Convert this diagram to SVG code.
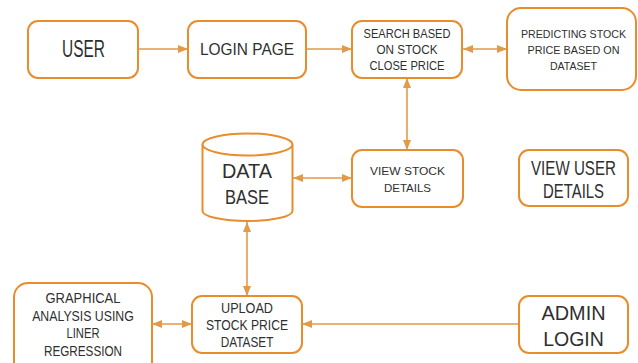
<svg xmlns="http://www.w3.org/2000/svg" width="638" height="363" viewBox="0 0 638 363">
<style>
.box{fill:#fff;stroke:#E98D2C;stroke-width:2}
.conn{stroke:#E39A48;stroke-width:1.6;fill:none}
text{font-family:"Liberation Sans",Arial,sans-serif;fill:#2f2f2f;text-anchor:middle}
</style>
<defs>
<marker id="ah" markerUnits="userSpaceOnUse" markerWidth="10" markerHeight="10" viewBox="0 0 10 10" refX="10" refY="5" orient="auto-start-reverse">
<path d="M0,1 L10,5 L0,9 z" fill="#E39A48"/>
</marker>
</defs>
<rect width="638" height="363" fill="#fff"/>
<g id="connectors">
<line class="conn" x1="138" y1="49" x2="188" y2="49" marker-end="url(#ah)"/>
<line class="conn" x1="306" y1="49" x2="352" y2="49" marker-end="url(#ah)"/>
<line class="conn" x1="463" y1="49" x2="507" y2="49" marker-start="url(#ah)" marker-end="url(#ah)"/>
<line class="conn" x1="407" y1="78" x2="407" y2="150" marker-start="url(#ah)" marker-end="url(#ah)"/>
<line class="conn" x1="293" y1="178" x2="352" y2="178" marker-start="url(#ah)" marker-end="url(#ah)"/>
<line class="conn" x1="247" y1="222" x2="247" y2="296" marker-start="url(#ah)" marker-end="url(#ah)"/>
<line class="conn" x1="152" y1="324" x2="192" y2="324" marker-start="url(#ah)" marker-end="url(#ah)"/>
<line class="conn" x1="519" y1="324" x2="302" y2="324" marker-end="url(#ah)"/>
</g>
<g id="user">
<rect class="box" x="28" y="21" width="110" height="57" rx="10"/>
<text x="83.5" y="57.3" font-size="23" textLength="43" lengthAdjust="spacingAndGlyphs">USER</text>
</g>
<g id="login-page">
<rect class="box" x="188" y="21" width="118" height="57" rx="10"/>
<text x="247" y="55.3" font-size="16.5" textLength="94" lengthAdjust="spacingAndGlyphs">LOGIN PAGE</text>
</g>
<g id="search">
<rect class="box" x="352" y="21" width="110" height="57" rx="10"/>
<text x="407" y="37.7" font-size="13" textLength="87" lengthAdjust="spacingAndGlyphs">SEARCH BASED</text>
<text x="407" y="54.3" font-size="13" textLength="61" lengthAdjust="spacingAndGlyphs">ON STOCK</text>
<text x="407" y="70" font-size="13" textLength="75" lengthAdjust="spacingAndGlyphs">CLOSE PRICE</text>
</g>
<g id="predicting">
<rect class="box" x="507" y="8" width="129" height="82" rx="14"/>
<text x="573.5" y="37.7" font-size="11.8" textLength="105" lengthAdjust="spacingAndGlyphs">PREDICTING STOCK</text>
<text x="573.5" y="54" font-size="11.8" textLength="92" lengthAdjust="spacingAndGlyphs">PRICE BASED ON</text>
<text x="573.5" y="69.5" font-size="11.8" textLength="47" lengthAdjust="spacingAndGlyphs">DATASET</text>
</g>
<g id="database">
<path class="box" d="M202.5,144.5 L202.5,211 A45,10 0 0 0 292.5,211 L292.5,144.5"/>
<ellipse class="box" cx="247.5" cy="144.5" rx="45" ry="11"/>
<text x="247" y="178.3" font-size="19.5" textLength="50" lengthAdjust="spacingAndGlyphs">DATA</text>
<text x="247" y="204.3" font-size="19.5" textLength="44" lengthAdjust="spacingAndGlyphs">BASE</text>
</g>
<g id="view-stock">
<rect class="box" x="352" y="150" width="111" height="57" rx="10"/>
<text x="407.5" y="175" font-size="11.8" textLength="75" lengthAdjust="spacingAndGlyphs">VIEW STOCK</text>
<text x="407.5" y="191.5" font-size="11.8" textLength="47" lengthAdjust="spacingAndGlyphs">DETAILS</text>
</g>
<g id="view-user">
<rect class="box" x="519" y="150" width="109" height="56" rx="10"/>
<text transform="translate(573.5,175) scale(0.72,1)" x="0" y="0" font-size="21" textLength="118" lengthAdjust="spacingAndGlyphs">VIEW USER</text>
<text transform="translate(573.5,198.3) scale(0.72,1)" x="0" y="0" font-size="21" textLength="84.7" lengthAdjust="spacingAndGlyphs">DETAILS</text>
</g>
<g id="graphical">
<rect class="box" x="14" y="283" width="138" height="95" rx="14"/>
<text x="83" y="303.3" font-size="14" textLength="75" lengthAdjust="spacingAndGlyphs">GRAPHICAL</text>
<text x="83" y="320.7" font-size="14" textLength="101.7" lengthAdjust="spacingAndGlyphs">ANALYSIS USING</text>
<text x="83" y="338.3" font-size="14" textLength="33" lengthAdjust="spacingAndGlyphs">LINER</text>
<text x="83" y="356" font-size="14" textLength="78" lengthAdjust="spacingAndGlyphs">REGRESSION</text>
</g>
<g id="upload">
<rect class="box" x="192" y="296" width="110" height="57" rx="10"/>
<text x="247" y="312.7" font-size="14.4" textLength="52" lengthAdjust="spacingAndGlyphs">UPLOAD</text>
<text x="247" y="330" font-size="14.4" textLength="82" lengthAdjust="spacingAndGlyphs">STOCK PRICE</text>
<text x="247" y="346.7" font-size="14.4" textLength="52.7" lengthAdjust="spacingAndGlyphs">DATASET</text>
</g>
<g id="admin-login">
<rect class="box" x="519" y="296" width="109" height="57" rx="10"/>
<text x="573.5" y="320" font-size="21" textLength="64" lengthAdjust="spacingAndGlyphs">ADMIN</text>
<text x="573.5" y="345.5" font-size="21" textLength="60.7" lengthAdjust="spacingAndGlyphs">LOGIN</text>
</g>
</svg>
